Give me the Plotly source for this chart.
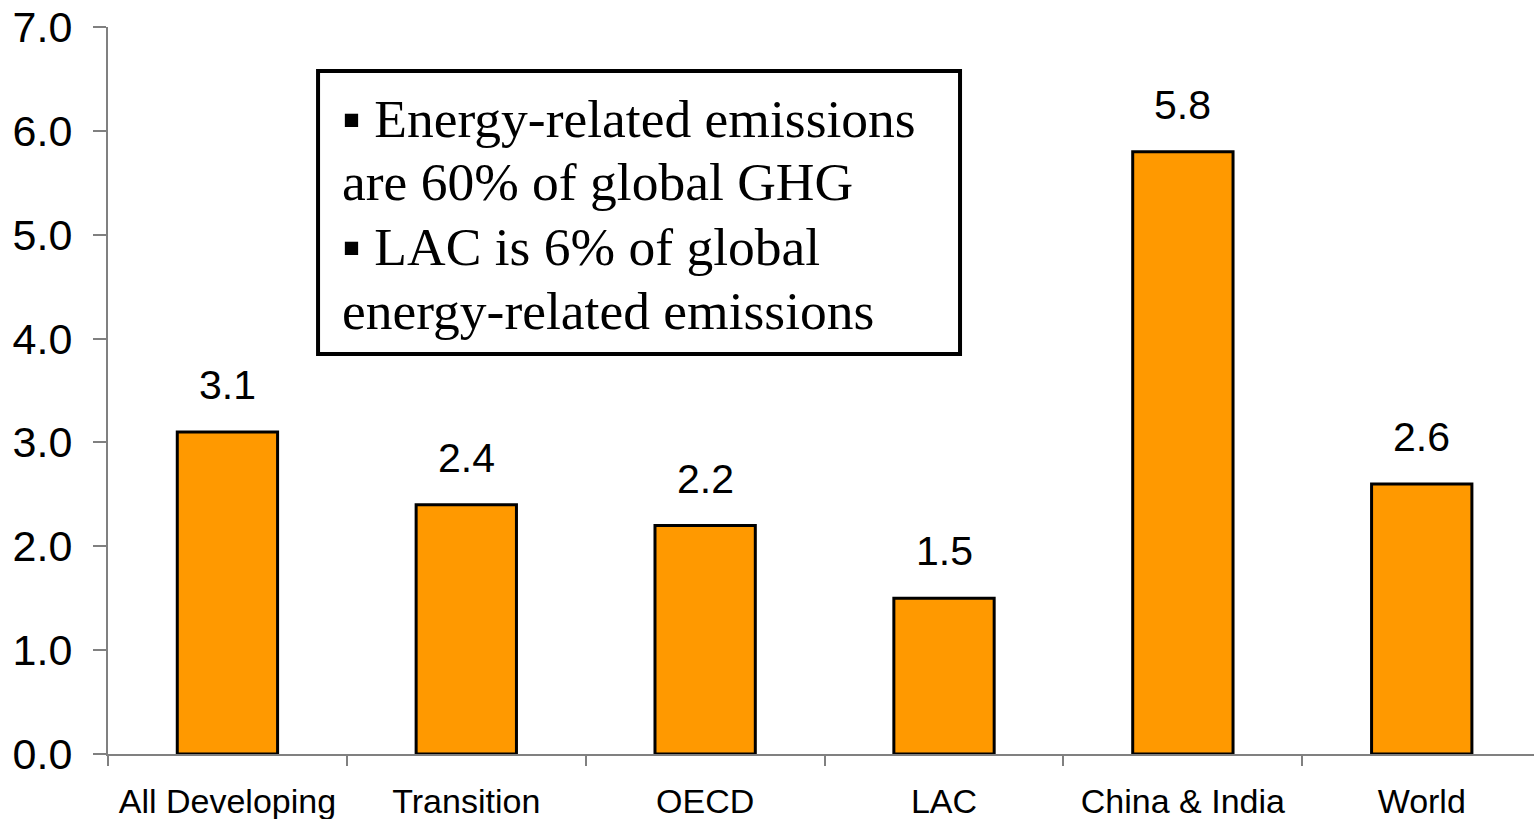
import plotly.graph_objects as go

# Energy-related CO2 emissions per unit, by region
regions = ["All Developing", "Transition", "OECD", "LAC", "China & India", "World"]
values = [3.1, 2.4, 2.2, 1.5, 5.8, 2.6]
y_ticks = [0, 1, 2, 3, 4, 5, 6, 7]

note_lines = [
    "\u25aa Energy-related emissions",
    "are 60% of global GHG",
    "\u25aa LAC is 6% of global",
    "energy-related emissions",
]

fig = go.Figure()
fig.add_trace(go.Bar(
    x=regions,
    y=values,
    marker=dict(color="#FF9900", line=dict(color="black", width=3)),
    hoverinfo="x+y",
))

# value labels above each bar
for r, v in zip(regions, values):
    fig.add_annotation(
        x=r, y=v, text=f"{v:.1f}", showarrow=False,
        xref="x", yref="y", yanchor="bottom", yshift=22,
        font=dict(family="Liberation Sans, Arial, sans-serif", size=41, color="black"),
    )

# boxed note: frame plus one text line per row
box_left, box_right, box_bottom, box_top = 0.1473, 0.5975, 0.5502, 0.9395
fig.add_shape(
    type="rect", xref="paper", yref="paper",
    x0=box_left, x1=box_right, y0=box_bottom, y1=box_top,
    line=dict(color="black", width=4), fillcolor="white", layer="above",
)
line_y = [0.8735, 0.7868, 0.6974, 0.6094]
for txt, ly in zip(note_lines, line_y):
    fig.add_annotation(
        xref="paper", yref="paper", x=0.1627, y=ly,
        xanchor="left", yanchor="middle", text=txt, showarrow=False,
        font=dict(family="Liberation Serif, Times New Roman, serif", size=53.5, color="black"),
    )

fig.update_layout(
    width=1534, height=819,
    margin=dict(l=108, r=0, t=27, b=65),
    paper_bgcolor="white", plot_bgcolor="white",
    showlegend=False,
    bargap=0.58,
    font=dict(family="Liberation Sans, Arial, sans-serif", color="black"),
)
fig.update_xaxes(
    range=[-0.5, 5.47],
    showline=True, linecolor="#808080", linewidth=2,
    ticks="outside", tickson="boundaries", ticklen=10, tickcolor="#808080", tickwidth=2,
    ticklabelstandoff=16,
    tickfont=dict(size=34, color="black"),
    showgrid=False, zeroline=False,
)
fig.update_yaxes(
    range=[0, 7], tickvals=y_ticks, tickformat=".1f",
    showline=True, linecolor="#808080", linewidth=2,
    ticks="outside", ticklen=13, tickcolor="#808080", tickwidth=2,
    ticklabelstandoff=12,
    tickfont=dict(size=43, color="black"),
    showgrid=False, zeroline=False,
)

fig.write_html("out.html")
